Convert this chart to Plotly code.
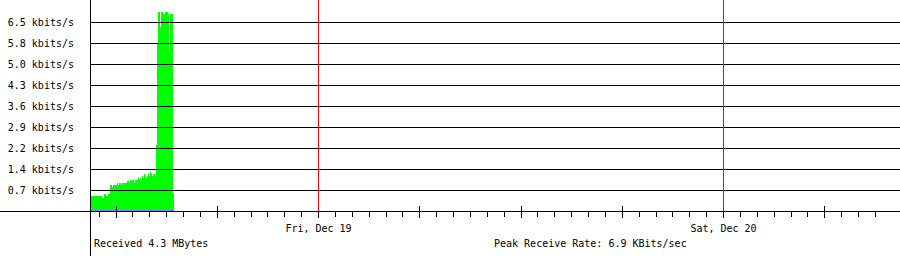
import plotly.graph_objects as go
from datetime import datetime, timedelta

# ---------------- data ----------------
sample_start = datetime(2014, 12, 18, 10, 32, 53)
sample_seconds = 213.333

received_kbps = [
    0.52, 0.52, 0.52, 0.55, 0.55, 0.55, 0.52, 0.55, 0.55, 0.55,
    0.52, 0.48, 0.48, 0.59, 0.59, 0.55, 0.55, 0.59, 0.59,
    0.90, 0.90, 0.86, 0.93, 0.93, 0.90, 0.93, 0.97, 0.93, 0.97,
    0.97, 0.93, 1.00, 0.97, 1.00, 1.00, 0.97, 1.04, 1.04, 1.00,
    1.07, 1.04, 1.07, 1.07, 1.00, 1.10, 1.10, 1.07, 1.14, 1.10,
    1.14, 1.10, 1.21, 1.17, 1.28, 1.21, 1.14, 1.24, 1.31, 1.21,
    1.38, 1.31, 1.24, 1.31, 1.28, 1.24,
    2.31, 5.80, 6.90, 6.90, 6.35, 6.90, 6.90, 6.83, 6.83, 6.87,
    6.87, 6.87, 6.83, 5.55, 6.80, 6.80, 6.80, 0.59,
]
sent_kbps = [
    0.04, 0.04, 0.04, 0.04, 0.04, 0.04, 0.04, 0.04, 0.04, 0.04,
    0.04, 0.04, 0.04, 0.04, 0.04, 0.04, 0.04, 0.04, 0.04, 0.04,
    0.04, 0.04, 0.04, 0.04, 0.04, 0.04, 0.04, 0.04, 0.04, 0.04,
    0.04, 0.04, 0.04, 0.04, 0.04, 0.04, 0.04, 0.04, 0.04, 0.04,
    0.04, 0.04, 0.04, 0.04, 0.04, 0.04, 0.04, 0.04, 0.04, 0.04,
    0.04, 0.04, 0.04, 0.04, 0.04, 0.04, 0.04, 0.04, 0.04, 0.04,
    0.04, 0.04, 0.04, 0.04, 0.04, 0.04, 0.04, 0.04, 0.04, 0.04,
    0.04, 0.04, 0.04, 0.04, 0.04, 0.04, 0.04, 0.04, 0.04, 0.04,
    0.04, 0.04, 0.04,
]
times = [sample_start + timedelta(seconds=i * sample_seconds)
         for i in range(len(received_kbps))]

axis_start = "2014-12-18 10:31:06.667"
axis_end = "2014-12-20 10:27:33.333"

grid_step = 0.7245
grid_vals = [grid_step * k for k in range(1, 10)]
grid_labels = ["0.7 kbits/s", "1.4 kbits/s", "2.2 kbits/s", "2.9 kbits/s",
               "3.6 kbits/s", "4.3 kbits/s", "5.0 kbits/s", "5.8 kbits/s",
               "6.5 kbits/s"]

first_hour_tick = datetime(2014, 12, 18, 11, 0)
last_hour_tick = datetime(2014, 12, 20, 9, 0)
hour_ticks = []
_t = first_hour_tick
while _t <= last_hour_tick:
    hour_ticks.append(_t)
    _t += timedelta(hours=1)

six_hour_ticks = ["2014-12-18 12:00", "2014-12-18 18:00", "2014-12-19 00:00",
                  "2014-12-19 06:00", "2014-12-19 12:00", "2014-12-19 18:00",
                  "2014-12-20 00:00", "2014-12-20 06:00"]
six_hour_labels = ["", "", "Fri, Dec 19", "", "", "", "Sat, Dec 20", ""]
day_lines = ["2014-12-19 00:00", "2014-12-20 00:00"]

received_text = "Received 4.3 MBytes"
peak_text = "Peak Receive Rate: 6.9 KBits/sec"

# ---------------- figure ----------------
W, H = 900, 256
ML, MB = 91, 45
PW, PH = W - ML, H - MB
px_unit = grid_step / 21.0
FONT = dict(family="DejaVu Sans Mono", size=10, color="black")

fig = go.Figure()
fig.add_trace(go.Bar(x=times, y=received_kbps, width=sample_seconds * 1000,
                     marker=dict(color="#00ff00", line=dict(width=0)),
                     opacity=1, showlegend=False, hoverinfo="skip"))
fig.add_trace(go.Bar(x=times, y=sent_kbps, width=sample_seconds * 1000,
                     marker=dict(color="#8080ff", line=dict(width=0)),
                     opacity=1, showlegend=False, hoverinfo="skip"))
# empty helper traces so the overlay tick axes are drawn
fig.add_trace(go.Scatter(x=[], y=[], xaxis="x2", showlegend=False))
fig.add_trace(go.Scatter(x=[], y=[], xaxis="x3", showlegend=False))

shapes = []
for v in grid_vals:
    shapes.append(dict(type="line", xref="paper", yref="y", x0=-1 / PW, x1=1,
                       y0=v, y1=v, line=dict(color="black", width=1), layer="above"))
for d in day_lines:
    shapes.append(dict(type="line", xref="x", yref="paper", x0=d, x1=d,
                       y0=0, y1=1, line=dict(color="#ff0000", width=1), layer="above"))
shapes.append(dict(type="line", xref="paper", yref="paper", x0=-ML / PW, x1=0,
                   y0=-0.5 / PH, y1=-0.5 / PH, line=dict(color="black", width=1)))
shapes.append(dict(type="line", xref="paper", yref="paper", x0=-0.5 / PW, x1=-0.5 / PW,
                   y0=0, y1=-MB / PH, line=dict(color="black", width=1)))

fig.update_layout(
    width=W, height=H,
    margin=dict(l=ML, r=0, t=0, b=MB, pad=0),
    paper_bgcolor="white", plot_bgcolor="white",
    barmode="overlay", bargap=0,
    showlegend=False,
    font=FONT,
    shapes=shapes,
    annotations=[
        dict(text=received_text, xref="paper", yref="paper",
             x=(92 - ML) / PW, y=-32 / PH, xanchor="left", yanchor="middle",
             showarrow=False, font=FONT),
        dict(text=peak_text, xref="paper", yref="paper",
             x=(492 - ML) / PW, y=-32 / PH, xanchor="left", yanchor="middle",
             showarrow=False, font=FONT),
    ],
    xaxis=dict(type="date", range=[axis_start, axis_end],
               tickmode="array", tickvals=six_hour_ticks, ticktext=six_hour_labels,
               ticks="outside", ticklen=6, tickwidth=1, tickcolor="black",
               showgrid=False, zeroline=False,
               showline=True, linecolor="black", linewidth=1,
               tickfont=FONT, ticklabelstandoff=2),
    xaxis2=dict(type="date", matches="x", overlaying="x", anchor="y", side="bottom",
                tickmode="array", tickvals=hour_ticks,
                ticks="outside", ticklen=5, tickwidth=1, tickcolor="black",
                showticklabels=False, showgrid=False, zeroline=False, showline=False),
    xaxis3=dict(type="date", matches="x", overlaying="x", anchor="y", side="bottom",
                tickmode="array", tickvals=six_hour_ticks,
                ticks="inside", ticklen=5, tickwidth=1, tickcolor="black",
                showticklabels=False, showgrid=False, zeroline=False, showline=False),
    yaxis=dict(range=[px_unit / 2, px_unit / 2 + PH * px_unit],
               tickmode="array", tickvals=grid_vals, ticktext=grid_labels,
               ticks="", showgrid=False, zeroline=False,
               showline=True, linecolor="black", linewidth=1,
               tickfont=FONT, ticklabelstandoff=14),
)

fig.write_html("out.html")
